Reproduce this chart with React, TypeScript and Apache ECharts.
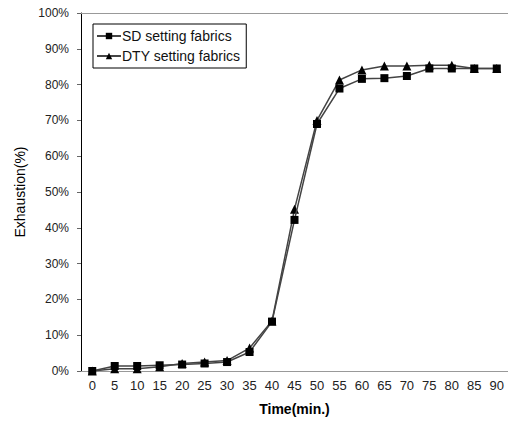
import React, { useEffect, useRef } from "react";
import * as echarts from "echarts";

const times = ["0", "5", "10", "15", "20", "25", "30", "35", "40", "45", "50", "55", "60", "65", "70", "75", "80", "85", "90"];
const sdValues = [0, 1.4, 1.4, 1.6, 1.8, 2.1, 2.5, 5.3, 13.8, 42.2, 69.0, 78.9, 81.6, 81.8, 82.4, 84.5, 84.5, 84.5, 84.5];
const dtyValues = [0, 0.6, 0.6, 1.2, 2.1, 2.5, 2.9, 6.4, 14.0, 45.2, 70.0, 81.3, 84.1, 85.2, 85.2, 85.4, 85.4, 84.5, 84.5];
const seriesNames = ["SD setting fabrics", "DTY setting fabrics"];

const FONT = "'Liberation Sans', Arial, sans-serif";

export default function App() {
  const ref = useRef<HTMLDivElement>(null);
  useEffect(() => {
    if (!ref.current) return;
    const chart = echarts.init(ref.current, null, { renderer: "svg" });
    chart.setOption({
      animation: false,
      backgroundColor: "#fff",
      textStyle: { fontFamily: FONT },
      grid: { left: 81, right: 0, top: 13, bottom: 41, show: false },
      legend: {
        data: seriesNames,
        orient: "vertical",
        left: 93,
        top: 24,
        itemWidth: 24,
        itemHeight: 8,
        itemGap: 6,
        padding: [5, 6, 5, 3],
        borderColor: "#000",
        borderWidth: 1,
        backgroundColor: "#fff",
        textStyle: { fontFamily: FONT, fontSize: 14, color: "#111", padding: [0, 0, 0, -4] },
      },
      xAxis: {
        type: "category",
        data: times,
        boundaryGap: true,
        name: "Time(min.)",
        nameLocation: "middle",
        nameGap: 31,
        nameTextStyle: { fontFamily: FONT, fontSize: 14, color: "#000", fontWeight: "bold" },
        axisLine: { lineStyle: { color: "#999", width: 1 } },
        axisTick: { inside: true, length: 4, lineStyle: { color: "#999" } },
        axisLabel: { fontFamily: FONT, fontSize: 13, color: "#222", margin: 8 },
        splitLine: { show: false },
      },
      yAxis: {
        type: "value",
        min: 0,
        max: 100,
        interval: 10,
        name: "Exhaustion(%)",
        nameLocation: "middle",
        nameGap: 46,
        nameTextStyle: { fontFamily: FONT, fontSize: 14, color: "#000" },
        axisLine: { show: true, lineStyle: { color: "#000", width: 1 } },
        axisTick: { show: true, length: 4, lineStyle: { color: "#666" } },
        axisLabel: { fontFamily: FONT, fontSize: 12, color: "#222", margin: 12, formatter: "{value}%" },
        splitLine: { show: false },
      },
      graphic: [
        {
          type: "line",
          shape: { x1: 81, y1: 13.5, x2: 508, y2: 13.5 },
          style: { stroke: "#999", lineWidth: 1 },
          z: 10,
        },
      ],
      series: [
        {
          name: seriesNames[1],
          type: "line",
          data: dtyValues,
          symbol: "triangle",
          symbolSize: 9,
          itemStyle: { color: "#000" },
          lineStyle: { color: "#444", width: 1.5 },
          z: 2,
        },
        {
          name: seriesNames[0],
          type: "line",
          data: sdValues,
          symbol: "rect",
          symbolSize: 8,
          itemStyle: { color: "#000" },
          lineStyle: { color: "#444", width: 1.5 },
          z: 3,
        },
      ],
    });
    return () => chart.dispose();
  }, []);
  return (
    <div
      ref={ref}
      style={{ position: "absolute", left: 0, top: 0, width: 508, height: 421 }}
    />
  );
}
